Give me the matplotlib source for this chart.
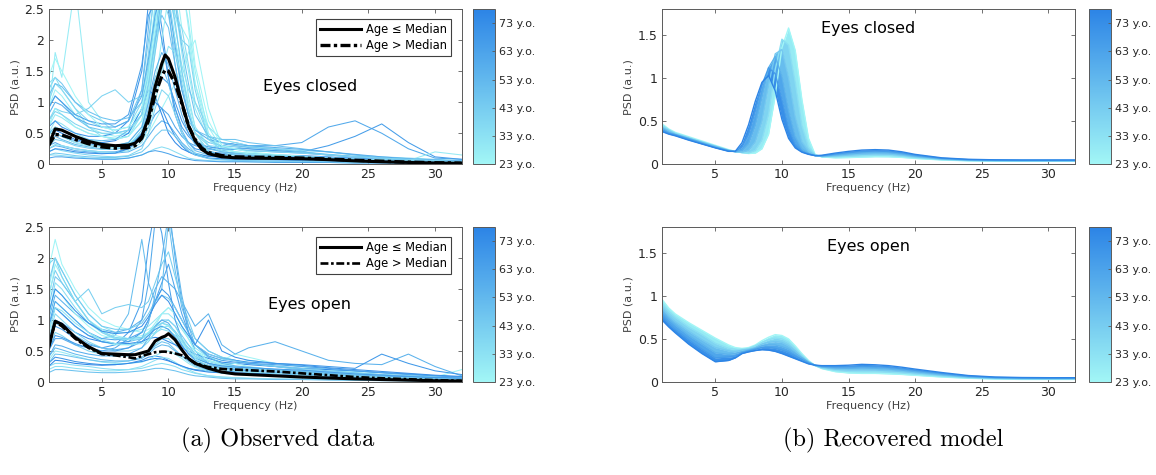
import numpy as np
import matplotlib
matplotlib.use('Agg')
import matplotlib.pyplot as plt
from matplotlib.colors import LinearSegmentedColormap, Normalize
from matplotlib.cm import ScalarMappable
from matplotlib.ticker import FuncFormatter

# ---------------- data ----------------
# observed spectra (a): individual subjects, sampled on F_OBS
F_OBS = [1, 1.5, 2, 3, 4, 5, 6, 7, 8, 8.5, 9, 9.5, 10, 10.5, 11, 11.5, 12,
         13, 14, 15, 16, 18, 20, 22, 24, 26, 28, 30, 32]

ec_ages = [25, 31, 45, 70, 60, 66, 28, 35, 50, 40, 24, 55, 75, 33, 38, 29, 62, 47,
           26, 36, 52, 42, 58, 27, 64, 32, 48, 72, 39, 23, 56, 44]
ec_traces = [
    [0.9, 1.2, 1.1, 0.8, 0.6, 0.5, 0.45, 0.5, 0.9, 1.6, 2.6, 3.2, 3.5, 3.0, 2.2, 2.0, 1.3, 0.6, 0.25, 0.2, 0.18, 0.15, 0.12, 0.1, 0.08, 0.06, 0.05, 0.04, 0.03],
    [0.5, 0.7, 0.65, 0.5, 0.4, 0.35, 0.3, 0.35, 0.6, 1.1, 1.9, 2.7, 3.0, 2.6, 1.8, 1.1, 0.6, 0.3, 0.2, 0.15, 0.13, 0.12, 0.1, 0.08, 0.06, 0.05, 0.04, 0.03, 0.03],
    [1.2, 1.4, 1.3, 1.0, 0.8, 0.7, 0.6, 0.7, 1.2, 2.0, 2.8, 3.0, 2.7, 2.0, 1.3, 0.8, 0.5, 0.35, 0.3, 0.28, 0.25, 0.22, 0.2, 0.15, 0.12, 0.1, 0.08, 0.06, 0.05],
    [0.6, 0.7, 0.6, 0.5, 0.45, 0.45, 0.5, 0.7, 1.5, 2.6, 2.9, 2.2, 1.4, 0.8, 0.5, 0.35, 0.25, 0.2, 0.18, 0.17, 0.16, 0.15, 0.14, 0.12, 0.1, 0.08, 0.06, 0.05, 0.04],
    [0.3, 0.35, 0.3, 0.25, 0.22, 0.2, 0.2, 0.25, 0.4, 0.6, 0.8, 0.9, 0.8, 0.6, 0.45, 0.35, 0.3, 0.25, 0.3, 0.35, 0.3, 0.3, 0.35, 0.6, 0.7, 0.5, 0.25, 0.1, 0.08],
    [0.4, 0.5, 0.45, 0.35, 0.3, 0.28, 0.27, 0.3, 0.5, 0.8, 1.2, 1.4, 1.3, 1.0, 0.7, 0.5, 0.35, 0.25, 0.22, 0.25, 0.25, 0.22, 0.2, 0.3, 0.45, 0.65, 0.35, 0.12, 0.08],
    [0.8, 1.8, 1.4, 2.9, 1.0, 0.7, 0.5, 0.5, 0.8, 1.5, 2.4, 2.8, 2.6, 2.0, 1.5, 1.0, 0.6, 0.3, 0.2, 0.15, 0.12, 0.1, 0.08, 0.06, 0.05, 0.04, 0.04, 0.03, 0.03],
    [0.15, 0.15, 0.14, 0.12, 0.1, 0.09, 0.09, 0.1, 0.15, 0.2, 0.25, 0.28, 0.25, 0.2, 0.15, 0.1, 0.08, 0.06, 0.05, 0.05, 0.04, 0.04, 0.03, 0.03, 0.02, 0.02, 0.02, 0.01, 0.01],
    [0.35, 0.45, 0.4, 0.32, 0.28, 0.25, 0.24, 0.28, 0.5, 0.9, 1.4, 1.6, 1.3, 0.9, 0.55, 0.35, 0.22, 0.15, 0.12, 0.1, 0.1, 0.09, 0.08, 0.07, 0.05, 0.04, 0.03, 0.02, 0.02],
    [0.7, 0.9, 0.85, 0.8, 0.9, 1.1, 1.2, 1.0, 1.1, 1.6, 2.3, 2.7, 2.4, 1.8, 1.2, 0.8, 0.5, 0.3, 0.28, 0.3, 0.28, 0.25, 0.22, 0.2, 0.15, 0.12, 0.1, 0.08, 0.06],
    [0.4, 0.5, 0.45, 0.35, 0.3, 0.28, 0.27, 0.3, 0.4, 0.5, 0.7, 0.9, 1.1, 1.3, 1.5, 1.8, 2.0, 0.9, 0.3, 0.2, 0.15, 0.12, 0.1, 0.08, 0.06, 0.05, 0.04, 0.03, 0.03],
    [0.25, 0.3, 0.28, 0.22, 0.2, 0.18, 0.18, 0.2, 0.3, 0.45, 0.6, 0.7, 0.65, 0.5, 0.35, 0.25, 0.18, 0.13, 0.11, 0.1, 0.1, 0.09, 0.08, 0.07, 0.06, 0.05, 0.04, 0.03, 0.03],
    [0.5, 0.55, 0.5, 0.4, 0.35, 0.35, 0.38, 0.5, 0.9, 1.2, 1.1, 0.8, 0.5, 0.35, 0.25, 0.2, 0.16, 0.13, 0.12, 0.12, 0.11, 0.1, 0.1, 0.09, 0.08, 0.07, 0.06, 0.05, 0.04],
    [1.3, 1.4, 1.2, 0.9, 0.6, 0.45, 0.4, 0.45, 0.8, 1.5, 2.5, 3.2, 3.0, 2.2, 1.6, 1.2, 1.0, 0.6, 0.4, 0.35, 0.3, 0.25, 0.2, 0.15, 0.12, 0.1, 0.07, 0.05, 0.04],
    [0.2, 0.25, 0.22, 0.18, 0.15, 0.13, 0.12, 0.14, 0.25, 0.5, 0.9, 1.2, 1.1, 0.8, 0.5, 0.3, 0.18, 0.1, 0.08, 0.07, 0.06, 0.05, 0.05, 0.04, 0.03, 0.03, 0.02, 0.02, 0.02],
    [0.6, 0.8, 0.75, 0.6, 0.5, 0.45, 0.42, 0.45, 0.7, 1.2, 2.0, 2.6, 2.7, 2.4, 2.0, 1.5, 0.9, 0.4, 0.22, 0.18, 0.16, 0.14, 0.12, 0.1, 0.08, 0.07, 0.06, 0.2, 0.15],
    [0.1, 0.12, 0.12, 0.1, 0.09, 0.08, 0.08, 0.1, 0.15, 0.2, 0.22, 0.2, 0.17, 0.13, 0.1, 0.08, 0.06, 0.05, 0.04, 0.04, 0.04, 0.03, 0.03, 0.03, 0.02, 0.02, 0.02, 0.02, 0.01],
    [0.9, 1.1, 1.0, 0.75, 0.6, 0.55, 0.5, 0.55, 0.8, 1.3, 2.0, 2.4, 2.2, 1.6, 1.0, 0.7, 0.55, 0.45, 0.4, 0.4, 0.35, 0.3, 0.25, 0.2, 0.15, 0.1, 0.08, 0.05, 0.05],
    [0.6, 0.9, 0.8, 0.6, 0.5, 0.45, 0.4, 0.45, 0.7, 1.1, 1.8, 2.6, 3.4, 3.6, 3.0, 2.2, 1.3, 0.45, 0.25, 0.2, 0.18, 0.15, 0.12, 0.1, 0.08, 0.06, 0.05, 0.04, 0.03],
    [1.0, 1.3, 1.2, 0.9, 0.7, 0.6, 0.55, 0.6, 1.0, 1.8, 3.0, 3.6, 3.2, 2.4, 2.2, 1.6, 1.0, 0.45, 0.2, 0.18, 0.16, 0.14, 0.12, 0.1, 0.08, 0.06, 0.05, 0.04, 0.03],
    [0.5, 0.6, 0.55, 0.45, 0.4, 0.38, 0.4, 0.55, 1.2, 2.2, 3.2, 3.3, 2.5, 1.6, 1.0, 0.6, 0.4, 0.25, 0.2, 0.18, 0.17, 0.15, 0.13, 0.11, 0.09, 0.07, 0.05, 0.04, 0.03],
    [0.3, 0.4, 0.38, 0.3, 0.26, 0.24, 0.24, 0.3, 0.55, 1.0, 1.8, 2.5, 2.8, 2.3, 1.5, 0.9, 0.5, 0.22, 0.15, 0.12, 0.11, 0.1, 0.09, 0.08, 0.06, 0.05, 0.04, 0.03, 0.02],
    [0.8, 1.0, 0.95, 0.75, 0.65, 0.6, 0.6, 0.7, 1.1, 1.7, 2.4, 2.9, 2.6, 1.9, 1.2, 0.8, 0.55, 0.4, 0.35, 0.32, 0.3, 0.27, 0.24, 0.2, 0.16, 0.12, 0.09, 0.07, 0.05],
    [0.45, 0.6, 0.55, 0.45, 0.38, 0.33, 0.3, 0.33, 0.5, 0.8, 1.3, 2.0, 2.7, 3.1, 2.9, 2.3, 1.5, 0.5, 0.25, 0.2, 0.17, 0.14, 0.11, 0.09, 0.07, 0.06, 0.05, 0.04, 0.03],
    [0.9, 1.1, 1.0, 0.8, 0.7, 0.65, 0.65, 0.8, 1.6, 2.4, 2.6, 2.0, 1.4, 0.9, 0.6, 0.45, 0.35, 0.28, 0.25, 0.24, 0.22, 0.2, 0.18, 0.15, 0.12, 0.1, 0.08, 0.06, 0.05],
    [0.25, 0.32, 0.3, 0.25, 0.22, 0.2, 0.19, 0.22, 0.35, 0.6, 1.0, 1.5, 1.9, 1.8, 1.4, 0.9, 0.5, 0.2, 0.12, 0.1, 0.09, 0.08, 0.07, 0.06, 0.05, 0.04, 0.03, 0.03, 0.02],
    [1.1, 1.3, 1.25, 1.0, 0.85, 0.75, 0.7, 0.75, 1.0, 1.4, 2.0, 2.7, 3.0, 2.6, 1.9, 1.3, 0.8, 0.45, 0.35, 0.3, 0.27, 0.24, 0.2, 0.16, 0.13, 0.1, 0.08, 0.06, 0.05],
    [0.2, 0.25, 0.24, 0.2, 0.18, 0.17, 0.18, 0.25, 0.5, 0.8, 1.0, 0.9, 0.65, 0.45, 0.3, 0.2, 0.15, 0.1, 0.09, 0.08, 0.08, 0.07, 0.06, 0.05, 0.04, 0.04, 0.03, 0.03, 0.02],
    [0.7, 0.85, 0.8, 0.65, 0.55, 0.5, 0.5, 0.55, 0.8, 1.3, 2.1, 2.8, 3.1, 2.7, 2.0, 1.9, 1.2, 0.4, 0.28, 0.25, 0.22, 0.2, 0.18, 0.15, 0.12, 0.1, 0.08, 0.06, 0.04],
    [1.4, 1.7, 1.5, 1.1, 0.8, 0.6, 0.55, 0.6, 0.9, 1.4, 2.2, 3.0, 3.3, 3.0, 2.5, 2.6, 1.6, 0.7, 0.3, 0.25, 0.2, 0.16, 0.13, 0.1, 0.08, 0.07, 0.05, 0.04, 0.03],
    [0.4, 0.5, 0.45, 0.38, 0.33, 0.3, 0.3, 0.35, 0.6, 1.0, 1.5, 1.8, 1.6, 1.2, 0.8, 0.5, 0.32, 0.2, 0.16, 0.15, 0.14, 0.13, 0.12, 0.1, 0.08, 0.06, 0.05, 0.04, 0.03],
    [0.15, 0.18, 0.17, 0.14, 0.12, 0.11, 0.11, 0.13, 0.2, 0.3, 0.45, 0.55, 0.55, 0.45, 0.32, 0.22, 0.15, 0.09, 0.07, 0.06, 0.06, 0.05, 0.05, 0.04, 0.03, 0.03, 0.02, 0.02, 0.02],
]

eo_ages = [30, 65, 50, 24, 40, 70, 56, 35, 45, 27, 60, 33, 74, 42, 52, 23, 68, 48,
           26, 37, 58, 44, 29, 62, 34, 76, 53, 39, 66, 31, 47, 71]
eo_traces = [
    [1.5, 2.0, 1.8, 1.4, 1.1, 0.9, 0.8, 0.8, 0.85, 0.9, 1.0, 1.1, 1.1, 1.0, 0.85, 0.7, 0.55, 0.4, 0.3, 0.25, 0.22, 0.2, 0.18, 0.15, 0.12, 0.1, 0.08, 0.06, 0.05],
    [0.6, 0.9, 0.85, 0.7, 0.6, 0.55, 0.6, 0.8, 1.3, 2.2, 2.8, 2.4, 1.6, 1.0, 0.7, 0.5, 0.4, 0.3, 0.25, 0.22, 0.2, 0.18, 0.16, 0.13, 0.1, 0.08, 0.06, 0.05, 0.04],
    [0.8, 1.2, 1.1, 0.9, 0.75, 0.7, 0.75, 1.1, 2.3, 1.6, 1.3, 1.5, 2.6, 1.8, 1.2, 0.9, 0.7, 0.5, 0.4, 0.35, 0.3, 0.25, 0.2, 0.15, 0.12, 0.1, 0.08, 0.06, 0.05],
    [1.8, 2.3, 1.9, 1.5, 1.2, 1.0, 0.9, 0.85, 0.8, 0.85, 0.9, 0.95, 0.9, 0.8, 0.7, 0.6, 0.5, 0.4, 0.35, 0.45, 0.4, 0.3, 0.25, 0.2, 0.15, 0.12, 0.1, 0.08, 0.2],
    [0.5, 0.8, 0.75, 0.6, 0.5, 0.45, 0.42, 0.42, 0.45, 0.5, 0.6, 0.7, 0.7, 0.6, 0.5, 0.4, 0.32, 0.25, 0.2, 0.18, 0.16, 0.14, 0.12, 0.1, 0.08, 0.06, 0.05, 0.04, 0.03],
    [0.3, 0.4, 0.38, 0.33, 0.3, 0.28, 0.28, 0.3, 0.35, 0.4, 0.42, 0.4, 0.35, 0.3, 0.25, 0.22, 0.2, 0.18, 0.17, 0.17, 0.16, 0.15, 0.14, 0.12, 0.1, 0.08, 0.07, 0.06, 0.05],
    [1.0, 1.4, 1.3, 1.1, 0.95, 0.85, 0.8, 0.85, 1.0, 1.2, 1.5, 1.7, 1.6, 1.5, 1.3, 1.1, 0.9, 1.1, 0.6, 0.45, 0.55, 0.65, 0.5, 0.35, 0.3, 0.28, 0.45, 0.25, 0.1],
    [0.25, 0.3, 0.3, 0.27, 0.25, 0.22, 0.2, 0.2, 0.22, 0.25, 0.28, 0.3, 0.28, 0.25, 0.2, 0.17, 0.14, 0.1, 0.08, 0.07, 0.06, 0.05, 0.05, 0.04, 0.03, 0.03, 0.02, 0.02, 0.02],
    [1.2, 1.7, 1.6, 1.3, 1.0, 0.8, 0.7, 0.65, 0.7, 0.8, 0.9, 1.0, 1.0, 0.9, 0.75, 0.6, 0.45, 0.3, 0.25, 0.22, 0.2, 0.18, 0.15, 0.12, 0.1, 0.08, 0.06, 0.05, 0.04],
    [0.9, 1.3, 1.2, 1.0, 0.8, 0.65, 0.6, 0.6, 0.65, 0.75, 0.9, 1.1, 1.2, 1.1, 0.9, 0.7, 0.5, 0.35, 0.3, 0.3, 0.35, 0.3, 0.25, 0.2, 0.17, 0.15, 0.12, 0.1, 0.08],
    [0.5, 0.7, 0.7, 0.6, 0.55, 0.5, 0.55, 0.7, 1.0, 1.6, 2.6, 3.2, 2.9, 2.0, 1.3, 0.8, 0.5, 0.3, 0.22, 0.2, 0.18, 0.15, 0.13, 0.11, 0.09, 0.07, 0.06, 0.05, 0.04],
    [0.2, 0.25, 0.25, 0.22, 0.2, 0.18, 0.18, 0.2, 0.25, 0.3, 0.35, 0.4, 0.38, 0.32, 0.25, 0.2, 0.15, 0.1, 0.08, 0.07, 0.06, 0.05, 0.04, 0.04, 0.03, 0.03, 0.02, 0.02, 0.02],
    [0.7, 1.0, 0.95, 0.8, 0.7, 0.65, 0.62, 0.62, 0.65, 0.7, 0.72, 0.7, 0.65, 0.6, 0.55, 0.5, 0.45, 0.38, 0.32, 0.3, 0.28, 0.25, 0.22, 0.2, 0.18, 0.15, 0.13, 0.1, 0.08],
    [1.4, 1.8, 1.6, 1.3, 1.5, 1.1, 1.2, 1.25, 1.2, 1.3, 1.6, 1.9, 2.1, 1.7, 1.3, 1.0, 0.7, 0.5, 0.4, 0.35, 0.3, 0.25, 0.2, 0.17, 0.14, 0.12, 0.1, 0.08, 0.06],
    [0.4, 0.55, 0.52, 0.45, 0.4, 0.36, 0.34, 0.34, 0.38, 0.45, 0.55, 0.6, 0.58, 0.5, 0.42, 0.35, 0.28, 0.2, 0.16, 0.14, 0.12, 0.1, 0.09, 0.08, 0.07, 0.06, 0.05, 0.04, 0.03],
    [1.1, 1.5, 1.4, 1.1, 0.9, 0.75, 0.7, 0.7, 0.75, 0.8, 0.85, 0.9, 0.85, 0.75, 0.62, 0.5, 0.4, 0.3, 0.25, 0.3, 0.25, 0.2, 0.17, 0.14, 0.12, 0.1, 0.08, 0.07, 0.06],
    [0.9, 1.2, 1.1, 0.9, 0.75, 0.65, 0.62, 0.65, 0.8, 1.0, 1.3, 1.5, 1.4, 1.2, 1.0, 0.8, 0.6, 0.45, 0.38, 0.35, 0.32, 0.3, 0.28, 0.25, 0.22, 0.45, 0.3, 0.18, 0.12],
    [0.15, 0.2, 0.2, 0.18, 0.16, 0.15, 0.15, 0.16, 0.18, 0.2, 0.22, 0.22, 0.2, 0.18, 0.15, 0.12, 0.1, 0.08, 0.06, 0.05, 0.05, 0.04, 0.04, 0.03, 0.03, 0.02, 0.02, 0.02, 0.01],
    [1.3, 1.9, 1.7, 1.3, 1.0, 0.85, 0.75, 0.7, 0.72, 0.8, 0.95, 1.1, 1.2, 1.1, 0.9, 0.7, 0.5, 0.35, 0.28, 0.25, 0.22, 0.2, 0.17, 0.14, 0.12, 0.1, 0.08, 0.06, 0.05],
    [0.7, 1.1, 1.0, 0.8, 0.65, 0.55, 0.5, 0.5, 0.55, 0.65, 0.8, 0.95, 1.0, 0.9, 0.7, 0.5, 0.35, 0.25, 0.2, 0.18, 0.16, 0.14, 0.12, 0.1, 0.08, 0.06, 0.05, 0.04, 0.03],
    [0.4, 0.6, 0.58, 0.5, 0.45, 0.42, 0.42, 0.45, 0.55, 0.7, 0.9, 1.0, 0.95, 0.8, 0.6, 0.45, 0.35, 0.27, 0.23, 0.21, 0.2, 0.18, 0.16, 0.14, 0.12, 0.1, 0.08, 0.06, 0.05],
    [1.6, 2.0, 1.8, 1.4, 1.1, 0.9, 0.85, 0.85, 0.95, 1.1, 1.3, 1.4, 1.35, 1.2, 1.0, 0.8, 0.6, 0.45, 0.38, 0.34, 0.3, 0.26, 0.22, 0.18, 0.15, 0.12, 0.1, 0.08, 0.06],
    [0.35, 0.5, 0.48, 0.42, 0.36, 0.32, 0.3, 0.3, 0.32, 0.36, 0.42, 0.48, 0.5, 0.45, 0.38, 0.3, 0.24, 0.17, 0.14, 0.12, 0.11, 0.1, 0.09, 0.08, 0.06, 0.05, 0.04, 0.03, 0.03],
    [0.9, 1.3, 1.2, 1.0, 0.8, 0.7, 0.68, 0.7, 0.8, 1.0, 1.3, 1.6, 1.9, 1.5, 1.1, 0.8, 0.6, 0.42, 0.35, 0.32, 0.3, 0.28, 0.25, 0.22, 0.18, 0.15, 0.12, 0.1, 0.08],
    [1.0, 1.6, 1.5, 1.2, 0.95, 0.8, 0.7, 0.68, 0.7, 0.75, 0.8, 0.85, 0.82, 0.75, 0.65, 0.55, 0.45, 0.33, 0.27, 0.24, 0.22, 0.2, 0.17, 0.14, 0.12, 0.1, 0.08, 0.07, 0.06],
    [0.25, 0.35, 0.34, 0.3, 0.28, 0.27, 0.28, 0.3, 0.33, 0.36, 0.38, 0.37, 0.34, 0.3, 0.26, 0.22, 0.19, 0.16, 0.15, 0.15, 0.14, 0.13, 0.12, 0.11, 0.1, 0.09, 0.08, 0.07, 0.06],
    [0.6, 0.95, 0.9, 0.75, 0.62, 0.55, 0.52, 0.55, 0.7, 0.95, 1.4, 2.0, 2.7, 2.1, 1.4, 0.9, 0.6, 0.4, 0.3, 0.26, 0.24, 0.2, 0.17, 0.14, 0.11, 0.09, 0.07, 0.06, 0.05],
    [1.9, 2.0, 1.7, 1.3, 1.0, 0.82, 0.72, 0.7, 0.72, 0.78, 0.88, 0.95, 0.92, 0.82, 0.68, 0.55, 0.42, 0.3, 0.25, 0.22, 0.2, 0.18, 0.15, 0.12, 0.1, 0.08, 0.07, 0.06, 0.05],
    [0.5, 0.75, 0.72, 0.62, 0.55, 0.5, 0.5, 0.55, 0.65, 0.75, 0.85, 0.9, 0.85, 0.72, 0.58, 0.46, 0.38, 0.3, 0.26, 0.24, 0.23, 0.21, 0.19, 0.16, 0.13, 0.11, 0.09, 0.07, 0.06],
    [0.8, 1.2, 1.15, 0.95, 0.8, 0.68, 0.62, 0.6, 0.62, 0.68, 0.78, 0.88, 0.9, 0.8, 0.65, 0.5, 0.38, 0.26, 0.2, 0.18, 0.16, 0.14, 0.12, 0.1, 0.08, 0.07, 0.05, 0.04, 0.04],
    [0.3, 0.45, 0.44, 0.4, 0.36, 0.33, 0.32, 0.34, 0.4, 0.48, 0.58, 0.65, 0.62, 0.52, 0.42, 0.33, 0.26, 0.19, 0.15, 0.13, 0.12, 0.11, 0.1, 0.09, 0.07, 0.06, 0.05, 0.04, 0.03],
    [1.1, 1.5, 1.4, 1.15, 0.95, 0.82, 0.78, 0.8, 0.9, 1.05, 1.25, 1.4, 1.3, 1.1, 0.9, 0.75, 0.6, 1.0, 0.5, 0.4, 0.35, 0.3, 0.27, 0.23, 0.2, 0.17, 0.14, 0.11, 0.09],
]

# group means (age <= median, age > median)
F_MEAN = [1, 1.5, 2, 3, 4, 5, 6, 7, 7.5, 8, 8.5, 9, 9.5, 9.75, 10, 10.5, 11, 11.5,
          12, 12.5, 13, 14, 15, 16, 18, 20, 22, 24, 26, 28, 30, 32]
ec_young_mean = [0.30, 0.57, 0.55, 0.45, 0.37, 0.32, 0.30, 0.31, 0.34, 0.45, 0.75, 1.25, 1.62, 1.76, 1.70, 1.40,
                 1.00, 0.62, 0.38, 0.24, 0.17, 0.12, 0.105, 0.10, 0.095, 0.09, 0.075, 0.055, 0.04, 0.03, 0.02, 0.015]
ec_old_mean = [0.30, 0.48, 0.47, 0.40, 0.33, 0.28, 0.26, 0.27, 0.30, 0.42, 0.70, 1.12, 1.42, 1.52, 1.50, 1.30,
               0.98, 0.62, 0.40, 0.26, 0.19, 0.14, 0.12, 0.115, 0.11, 0.10, 0.085, 0.065, 0.05, 0.035, 0.025, 0.02]
eo_young_mean = [0.55, 0.98, 0.93, 0.72, 0.57, 0.46, 0.45, 0.44, 0.44, 0.47, 0.50, 0.66, 0.72, 0.74, 0.78, 0.68,
                 0.52, 0.38, 0.30, 0.26, 0.22, 0.16, 0.13, 0.12, 0.10, 0.08, 0.065, 0.05, 0.04, 0.03, 0.02, 0.015]
eo_old_mean = [0.55, 0.97, 0.90, 0.70, 0.55, 0.45, 0.43, 0.40, 0.38, 0.42, 0.45, 0.48, 0.49, 0.49, 0.48, 0.46,
               0.43, 0.37, 0.31, 0.27, 0.24, 0.21, 0.20, 0.19, 0.17, 0.14, 0.11, 0.08, 0.06, 0.045, 0.03, 0.02]

# recovered model (b): spectra for a few ages, sampled on F_MOD
F_MOD = [1, 1.5, 2, 3, 4, 5, 6, 6.5, 7, 7.5, 8, 8.5, 9, 9.5, 10, 10.5, 11, 11.5, 12, 12.5,
         13, 14, 15, 16, 17, 18, 19, 20, 22, 24, 26, 28, 30, 32]
model_ages = [23, 34, 45, 56, 67, 78]
ec_model = [
    [0.47, 0.41, 0.37, 0.32, 0.27, 0.22, 0.17, 0.15, 0.135, 0.125, 0.13, 0.18, 0.35, 0.80, 1.35, 1.58, 1.32, 0.75, 0.30, 0.11,
     0.085, 0.075, 0.078, 0.083, 0.088, 0.087, 0.080, 0.068, 0.050, 0.040, 0.036, 0.035, 0.035, 0.035],
    [0.45, 0.40, 0.36, 0.31, 0.26, 0.21, 0.165, 0.15, 0.135, 0.13, 0.16, 0.28, 0.58, 1.10, 1.45, 1.38, 0.95, 0.45, 0.20, 0.11,
     0.09, 0.086, 0.092, 0.099, 0.104, 0.103, 0.093, 0.077, 0.055, 0.044, 0.039, 0.038, 0.038, 0.038],
    [0.43, 0.39, 0.35, 0.30, 0.255, 0.21, 0.16, 0.145, 0.14, 0.16, 0.26, 0.50, 0.92, 1.28, 1.33, 1.00, 0.55, 0.26, 0.15, 0.105,
     0.09, 0.097, 0.107, 0.116, 0.121, 0.118, 0.106, 0.087, 0.060, 0.047, 0.042, 0.041, 0.041, 0.041],
    [0.42, 0.37, 0.345, 0.30, 0.25, 0.20, 0.16, 0.145, 0.16, 0.24, 0.45, 0.78, 1.12, 1.25, 1.02, 0.62, 0.32, 0.18, 0.125, 0.10,
     0.095, 0.108, 0.121, 0.132, 0.137, 0.134, 0.119, 0.096, 0.065, 0.051, 0.046, 0.044, 0.044, 0.044],
    [0.40, 0.36, 0.34, 0.29, 0.24, 0.195, 0.155, 0.15, 0.20, 0.35, 0.62, 0.92, 1.12, 1.05, 0.75, 0.42, 0.23, 0.15, 0.12, 0.10,
     0.10, 0.119, 0.136, 0.149, 0.154, 0.149, 0.132, 0.106, 0.070, 0.054, 0.049, 0.047, 0.047, 0.047],
    [0.38, 0.35, 0.33, 0.28, 0.235, 0.19, 0.15, 0.15, 0.25, 0.46, 0.73, 0.95, 1.03, 0.85, 0.52, 0.30, 0.19, 0.14, 0.115, 0.10,
     0.105, 0.13, 0.15, 0.165, 0.17, 0.165, 0.145, 0.115, 0.075, 0.058, 0.052, 0.05, 0.05, 0.05],
]
eo_model = [
    [0.96, 0.86, 0.79, 0.69, 0.60, 0.51, 0.43, 0.40, 0.39, 0.40, 0.43, 0.48, 0.52, 0.55, 0.54, 0.50, 0.42, 0.33, 0.25, 0.19,
     0.155, 0.12, 0.105, 0.10, 0.10, 0.095, 0.088, 0.078, 0.058, 0.043, 0.035, 0.03, 0.03, 0.03],
    [0.91, 0.82, 0.75, 0.64, 0.55, 0.45, 0.39, 0.38, 0.38, 0.39, 0.42, 0.46, 0.49, 0.51, 0.50, 0.46, 0.39, 0.31, 0.24, 0.19,
     0.16, 0.134, 0.123, 0.121, 0.12, 0.114, 0.105, 0.092, 0.068, 0.049, 0.04, 0.034, 0.034, 0.034],
    [0.86, 0.77, 0.70, 0.59, 0.49, 0.40, 0.36, 0.35, 0.37, 0.38, 0.40, 0.44, 0.46, 0.47, 0.46, 0.42, 0.36, 0.29, 0.23, 0.19,
     0.17, 0.148, 0.141, 0.142, 0.14, 0.133, 0.122, 0.107, 0.079, 0.056, 0.044, 0.039, 0.038, 0.038],
    [0.82, 0.73, 0.66, 0.54, 0.44, 0.34, 0.32, 0.33, 0.35, 0.37, 0.39, 0.42, 0.43, 0.43, 0.41, 0.38, 0.33, 0.28, 0.23, 0.195,
     0.175, 0.162, 0.159, 0.163, 0.16, 0.152, 0.138, 0.121, 0.089, 0.062, 0.049, 0.043, 0.042, 0.042],
    [0.77, 0.68, 0.61, 0.49, 0.38, 0.28, 0.29, 0.30, 0.34, 0.36, 0.38, 0.40, 0.40, 0.39, 0.37, 0.34, 0.30, 0.26, 0.22, 0.195,
     0.185, 0.176, 0.177, 0.184, 0.18, 0.171, 0.155, 0.136, 0.10, 0.069, 0.053, 0.048, 0.046, 0.046],
    [0.72, 0.64, 0.57, 0.44, 0.33, 0.235, 0.25, 0.28, 0.33, 0.35, 0.365, 0.375, 0.37, 0.355, 0.33, 0.30, 0.27, 0.24, 0.21, 0.195,
     0.19, 0.19, 0.195, 0.205, 0.20, 0.19, 0.172, 0.15, 0.11, 0.075, 0.058, 0.052, 0.05, 0.05],
]

AGE_MIN, AGE_MAX = 23, 78
cbar_ticks = [23, 33, 43, 53, 63, 73]

# ---------------- style ----------------
cmap = LinearSegmentedColormap.from_list('age', ['#a2f6f6', '#2c84e6'])
norm = Normalize(AGE_MIN, AGE_MAX)
TXT = '#262626'
EDGE = '#5a5a5a'

W, H = 1156, 475
fig = plt.figure(figsize=(W / 100, H / 100), dpi=100)


def rect(x0, x1, ytop, ybot):
    return [x0 / W, 1 - ybot / H, (x1 - x0) / W, (ybot - ytop) / H]


def style_axes(ax, ymax, yticks):
    ax.set_xlim(1, 32)
    ax.set_ylim(0, ymax)
    ax.set_xticks([5, 10, 15, 20, 25, 30])
    ax.set_yticks(yticks)
    ax.yaxis.set_major_formatter(FuncFormatter(lambda v, _: f'{v:g}'))
    ax.tick_params(direction='in', length=3, width=0.6, top=True, right=True,
                   labelsize=9, colors=EDGE, labelcolor=TXT, pad=3)
    for s in ax.spines.values():
        s.set_color(EDGE)
        s.set_linewidth(0.7)
    ax.set_xlabel('Frequency (Hz)', fontsize=8, color='#404040', labelpad=1)
    ax.set_ylabel('PSD (a.u.)', fontsize=8, color='#404040', labelpad=3)


def add_cbar(cax):
    cb = fig.colorbar(ScalarMappable(norm=norm, cmap=cmap), cax=cax, ticks=cbar_ticks)
    cb.set_ticklabels([f'{a} y.o.' for a in cbar_ticks])
    cb.ax.tick_params(direction='in', length=2.5, width=0.6, labelsize=8,
                      colors=EDGE, labelcolor=TXT, pad=3)
    cb.outline.set_edgecolor(EDGE)
    cb.outline.set_linewidth(0.7)


def observed(ax, ages, traces, m_young, m_old, lw_old, label):
    for a, tr in zip(ages, traces):
        ax.plot(F_OBS, tr, color=cmap(norm(a)), lw=0.75)
    ax.plot(F_MEAN, m_young, color='black', lw=2.2, label='Age \u2264 Median')
    ax.plot(F_MEAN, m_old, color='black', lw=lw_old, ls=(0, (3, 1, 1, 1)),
            label='Age > Median')
    style_axes(ax, 2.5, [0, 0.5, 1, 1.5, 2, 2.5])
    ax.text(20.6, 1.25, label, ha='center', va='center', fontsize=11.5, color='black')
    leg = ax.legend(loc='upper right', bbox_to_anchor=(1 - 11 / 413, 1 - 10 / 155),
                    borderaxespad=0, fontsize=8.3, handlelength=3.6, handletextpad=0.4,
                    labelspacing=0.25, borderpad=0.35, fancybox=False, framealpha=1)
    leg.get_frame().set_edgecolor('#404040')
    leg.get_frame().set_linewidth(0.8)


def model(ax, curves, label):
    ys = [np.array(c) for c in curves]
    for i in range(len(ys) - 1):
        mid = 0.5 * (model_ages[i] + model_ages[i + 1])
        ax.fill_between(F_MOD, ys[i], ys[i + 1], color=cmap(norm(mid)), lw=0)
    for a, y in zip(model_ages, ys):
        ax.plot(F_MOD, y, color=cmap(norm(a)), lw=1.0)
    style_axes(ax, 1.8, [0, 0.5, 1, 1.5])
    ax.text(16.5, 1.57, label, ha='center', va='center', fontsize=11.5, color='black')


# left column: observed data
ax1 = fig.add_axes(rect(48.5, 461.7, 9, 164.3))
observed(ax1, ec_ages, ec_traces, ec_young_mean, ec_old_mean, 2.4, 'Eyes closed')
add_cbar(fig.add_axes(rect(473.3, 495.3, 9, 164.3)))

ax2 = fig.add_axes(rect(48.5, 461.7, 227, 382))
observed(ax2, eo_ages, eo_traces, eo_young_mean, eo_old_mean, 1.9, 'Eyes open')
add_cbar(fig.add_axes(rect(473.3, 495.3, 227, 382)))

# right column: recovered model
ax3 = fig.add_axes(rect(662, 1075, 9, 164.3))
model(ax3, ec_model, 'Eyes closed')
add_cbar(fig.add_axes(rect(1088.5, 1110.7, 9, 164.3)))

ax4 = fig.add_axes(rect(662, 1075, 227, 382))
model(ax4, eo_model, 'Eyes open')
add_cbar(fig.add_axes(rect(1088.5, 1110.7, 227, 382)))

# sub-captions
fig.text(278 / W, 1 - 440 / H, '(a) Observed data', ha='center', va='center',
         fontsize=17.5, family='cmr10')
fig.text(893 / W, 1 - 440 / H, '(b) Recovered model', ha='center', va='center',
         fontsize=17.5, family='cmr10')

fig.savefig('out.png', dpi=100)
